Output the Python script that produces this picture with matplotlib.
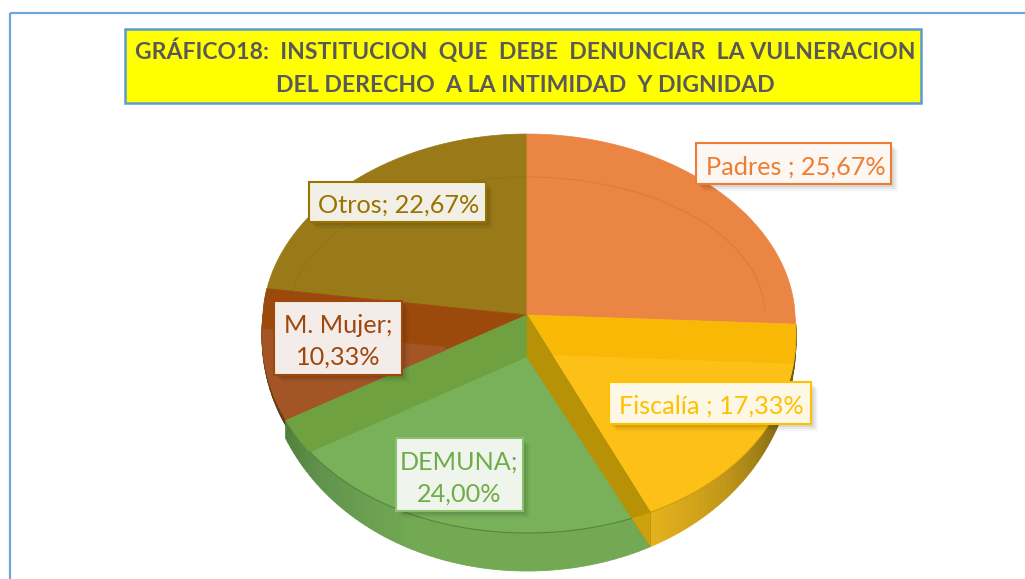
import numpy as np
import matplotlib
matplotlib.use("Agg")
import matplotlib.pyplot as plt
from matplotlib.patches import Polygon, Rectangle
from matplotlib.colors import to_rgb

title_lines = ["GRÁFICO18:  INSTITUCION  QUE  DEBE  DENUNCIAR  LA VULNERACION",
               "DEL DERECHO  A LA INTIMIDAD  Y DIGNIDAD"]
categories = ["Padres", "Fiscalía", "DEMUNA", "M. Mujer", "Otros"]
values = [25.67, 17.33, 24.00, 10.33, 22.67]
label_texts = ["Padres ; 25,67%", "Fiscalía ; 17,33%", "DEMUNA;\n24,00%", "M. Mujer;\n10,33%", "Otros; 22,67%"]

plt.rcParams['font.family'] = ['Lato', 'DejaVu Sans']

fig = plt.figure(figsize=(10.25, 5.79), dpi=100)
ax = fig.add_axes([0, 0, 1, 1])
ax.set_xlim(0, 1025)
ax.set_ylim(579, 0)
ax.axis("off")

CX, CY, RX, RY_UP, RY_DOWN, RY_OUTER = 527, 315, 268, 181, 218, 256
WALL = 42


def pt(theta, ry_down=RY_DOWN):
    c, s = np.cos(np.radians(theta)), np.sin(np.radians(theta))
    side = 0.985 if s < 0 else 1.0
    if c >= 0:
        return CX + RX * side * s * (1 - 0.03 * c), CY - RY_UP * c
    return CX + RX * side * s * (1 - 0.09 * c), CY - ry_down * c


def arc(a, b, ry_down=RY_DOWN, n=80):
    return [pt(t, ry_down) for t in np.linspace(a, b, n)]


def mix(stops, f):
    xs = [s[0] for s in stops]
    cols = np.array([to_rgb(s[1]) for s in stops])
    return tuple(np.interp(f, xs, cols[:, i]) for i in range(3))


def wall(a, b, stops, depth=1.0, z=1):
    ts = np.linspace(a, b, 70)
    for t0, t1 in zip(ts[:-1], ts[1:]):
        ry = RY_DOWN + (RY_OUTER - RY_DOWN) * depth
        col = mix(stops, (t0 - a) / (b - a))
        ax.add_patch(Polygon([pt(t0), pt(t1), pt(t1, ry), pt(t0, ry)], closed=True,
                             fc=col, ec=col, lw=0.6, zorder=z))


edges = np.concatenate([[0], np.cumsum(values)]) * 3.6
a_or, a_ye, a_gr, a_br, a_ot = edges[1], edges[2], edges[3], edges[4], edges[5]
P = (CX, CY)
Q = (CX, CY + WALL)

# outer walls
wall(a_gr - 3, a_br, [(0, "#5a3a18"), (1, "#7a4a1c")], depth=0.3, z=1)
wall(a_or, a_ye, [(0, "#5a4a12"), (0.4, "#8a6e14"), (0.7, "#c29718"), (1, "#e6b31c")], z=2)
wall(a_ye, a_gr, [(0, "#73a953"), (0.55, "#72a952"), (0.85, "#5f914c"), (1, "#4f7e38")], z=2)

# top faces
ax.add_patch(Polygon([P] + arc(a_br, a_ot), closed=True, fc="#9a7a18", ec="#9a7a18", lw=0.5, zorder=3))
ax.add_patch(Polygon([P] + arc(0, a_or), closed=True, fc="#ea8544", ec="#ea8544", lw=0.5, zorder=3))
ax.add_patch(Polygon([P] + arc(a_gr, a_br), closed=True, fc="#9c4a0c", ec="#9c4a0c", lw=0.5, zorder=3))
light_br = Polygon([P] + arc(a_gr, a_br), closed=True, fc="#a45526", ec="none", zorder=3.1)
ax.add_patch(light_br)
light_br.set_clip_path(Polygon([(445, 347), (255, 328), (255, 450), (445, 450)], closed=True,
                               transform=ax.transData))
ax.add_patch(Polygon([P] + arc(a_or, a_ye), closed=True, fc="#fab806", ec="#fab806", lw=0.5, zorder=3))
light_ye = Polygon([P] + arc(a_or, a_ye), closed=True, fc="#fdc016", ec="none", zorder=3.1)
ax.add_patch(light_ye)
light_ye.set_clip_path(Polygon([(527, 354), (800, 364), (800, 579), (527, 579)], closed=True,
                               transform=ax.transData))
ax.add_patch(Polygon([P] + arc(a_ye, a_gr), closed=True, fc="#6fa140", ec="#6fa140", lw=0.5, zorder=3))
light_gr = Polygon([Q] + arc(a_ye, 231), closed=True, fc="#78b159", ec="none", zorder=3.1)
ax.add_patch(light_gr)

# faint rings and rim lines
th = np.radians(np.linspace(-88, 88, 200))
ax.plot(CX + 238 * np.sin(th), CY - 138 * np.cos(th), color="#5a4510", alpha=0.12, lw=0.8, zorder=3.2)
rr = np.array(arc(a_ye, a_gr - 10))
ax.plot(rr[:, 0], rr[:, 1], color="#3f6b2a", alpha=0.55, lw=0.8, zorder=3.3)
ry = np.array(arc(a_or + 25, a_ye))
ax.plot(ry[:, 0], ry[:, 1], color="#8a6a10", alpha=0.35, lw=0.8, zorder=3.3)

# inner wall of the yellow slice
wall_pts = [P, pt(a_ye), pt(a_ye, RY_OUTER), Q]
ax.add_patch(Polygon(wall_pts, closed=True, fc="#b89206", ec="#b89206", lw=0.5, zorder=3.4))
low = Polygon(wall_pts, closed=True, fc="#cfa10c", ec="none", zorder=3.5)
ax.add_patch(low)
low.set_clip_path(Polygon(arc(a_ye - 10, a_ye + 25) + arc(a_ye + 25, a_ye - 10, RY_OUTER + 12), closed=True,
                          transform=ax.transData))

# frame and title
ax.add_patch(Rectangle((10, 13), 1100, 600, fc="none", ec="#6fa5da", lw=1.6, zorder=0.5))
ax.add_patch(Rectangle((125, 29), 796, 74, fc="#ffff00", ec="#5b9bd5", lw=1.8, zorder=6))
ax.text(525.5, 50.5, title_lines[0], ha="center", va="center", fontsize=16.6, fontweight="bold",
        color="#595959", zorder=7)
ax.text(525.5, 85, title_lines[1], ha="center", va="center", fontsize=16.6, fontweight="bold",
        color="#595959", zorder=7)

# data labels: box left, top, right, bottom; colours follow the slices
boxes = [(696, 143, 891, 184), (609, 382, 811, 424), (396, 438, 523, 511), (274, 301, 402, 375), (309, 182, 486, 222)]
text_dx = [2.5, 1.5, 0, 0, 1]
text_cols = ["#ed7d31", "#ffc000", "#70ad47", "#9e480e", "#997300"]
edge_cols = ["#ed7d31", "#ffc000", "#8cc06a", "#9e480e", "#997300"]
fills = ["#fdf7f3", "#fdf7e6", "#eff4ec", "#f3ece8", "#f2f0e6"]
for txt, (l, t, r, b), dx, tc, ec, fc in zip(label_texts, boxes, text_dx, text_cols, edge_cols, fills):
    for off, al in [(9, 0.04), (7, 0.05), (5, 0.07), (3, 0.09)]:
        ax.add_patch(Rectangle((l + off - 2, t + off - 2), r - l, b - t, fc="#000000", ec="none", alpha=al, zorder=8))
    ax.add_patch(Rectangle((l, t), r - l, b - t, fc=fc, ec=ec, lw=1.5, zorder=9))
    ax.text((l + r) / 2 + dx, (t + b) / 2 + 3.5, txt, ha="center", va="center", multialignment="center", fontsize=18.2,
            color=tc, zorder=10, linespacing=1.45)

fig.savefig("out.png", dpi=100)
